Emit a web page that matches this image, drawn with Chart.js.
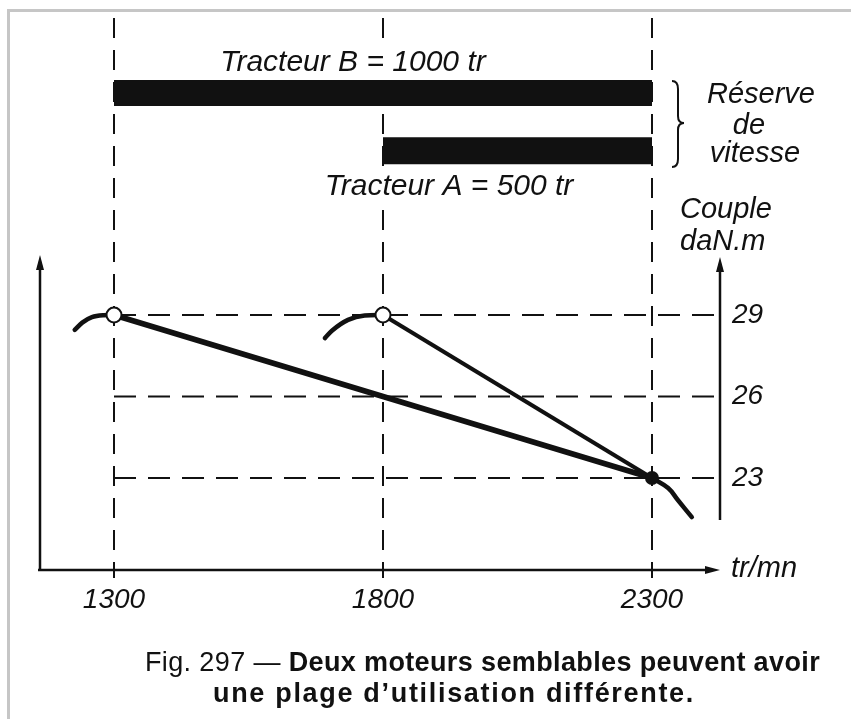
<!DOCTYPE html>
<html>
<head>
<meta charset="utf-8">
<script src="https://cdn.jsdelivr.net/npm/chart.js@4"></script>
<style>
  html, body { margin: 0; padding: 0; background: #fff; }
  #wrap { position: relative; width: 851px; height: 719px; overflow: hidden; }
  #cadre { position: absolute; left: 7px; top: 9px; width: 900px; height: 800px;
           border-left: 3px solid #c6c6c6; border-top: 3px solid #c6c6c6; }
  canvas { position: absolute; left: 0; top: 0; }
  .legende { position: absolute; font-family: "Liberation Sans", Arial, sans-serif; font-size: 27px;
             font-weight: bold; color: #111; white-space: nowrap; line-height: 1; }
  .legende span { font-weight: normal; }
</style>
</head>
<body>
<div id="wrap">
  <div id="cadre"></div>
  <canvas id="couple" width="851" height="719"></canvas>
  <div class="legende" id="leg1" data-w="675" style="left:145px; top:649px;"><span>Fig. 297 — </span>Deux moteurs semblables peuvent avoir</div>
  <div class="legende" id="leg2" data-w="482" style="left:213px; top:680px;">une plage d’utilisation différente.</div>
</div>
<script>
// graduations
const rpmTicks = [1300, 1800, 2300];
const coupleTicks = [23, 26, 29];

// moteur B : couple maxi a 1300 tr/mn
const arcB_x = [1227, 1241, 1259, 1280, 1300];
const arcB_y = [28.45, 28.72, 28.92, 28.99, 29];
const lineB_x = [1300, 1800, 2300];
const lineB_y = [29, 26, 23];

// moteur A : couple maxi a 1800 tr/mn
const arcA_x = [1692, 1705, 1735, 1766, 1800];
const arcA_y = [28.15, 28.42, 28.82, 28.98, 29];
const lineA_x = [1800, 2300];
const lineA_y = [29, 23];

// chute apres le regime nominal (commune)
const chute_x = [2300, 2330, 2348, 2374];
const chute_y = [23, 22.63, 22.19, 21.56];

// points remarquables
const maxi_x = [1300, 1800];
const maxi_y = [29, 29];
const nominal_x = [2300];
const nominal_y = [23];

// reserve de vitesse (tr/mn)
const reserveB = [1300, 2300];
const reserveA = [1800, 2300];

const pts = (xs, ys) => xs.map((x, i) => ({ x: x, y: ys[i] }));
const barre = (r, niveau) => r.map(x => ({ x: x, y: niveau }));

const NOIR = '#111';
const police = '"Liberation Sans", Arial, sans-serif';

// ajuste l'espacement des lettres de la legende a la largeur voulue
document.querySelectorAll('.legende').forEach(el => {
    const n = el.textContent.length;
    const w = el.getBoundingClientRect().width;
    el.style.letterSpacing = ((parseFloat(el.dataset.w) - w) / n) + 'px';
});

function fleche(ctx, x, y, dir) {
    ctx.beginPath();
    if (dir === 'up') {
        ctx.moveTo(x, y); ctx.lineTo(x - 4, y + 15); ctx.lineTo(x + 4, y + 15);
    } else {
        ctx.moveTo(x, y); ctx.lineTo(x - 15, y - 4); ctx.lineTo(x - 15, y + 4);
    }
    ctx.closePath();
    ctx.fill();
}

// texte sur fond blanc (coupe les pointilles)
function texteDegage(ctx, txt, x, y) {
    const w = ctx.measureText(txt).width;
    ctx.fillStyle = '#fff';
    ctx.fillRect(x - w / 2 - 4, y - 24, w + 8, 30);
    ctx.fillStyle = NOIR;
    ctx.fillText(txt, x, y);
}

const decor = {
    id: 'decor',
    beforeDatasetsDraw(chart) {
        const ctx = chart.ctx, xs = chart.scales.x, ys = chart.scales.y, a = chart.chartArea;
        ctx.save();
        ctx.strokeStyle = NOIR;
        ctx.fillStyle = NOIR;
        ctx.lineWidth = 2;
        // pointilles verticaux
        ctx.setLineDash([20, 12]);
        rpmTicks.forEach(v => {
            const px = xs.getPixelForValue(v);
            ctx.beginPath(); ctx.moveTo(px, 18); ctx.lineTo(px, a.bottom + 8); ctx.stroke();
        });
        // pointilles horizontaux
        ctx.setLineDash([22, 12]);
        coupleTicks.forEach(v => {
            const py = ys.getPixelForValue(v);
            ctx.beginPath(); ctx.moveTo(xs.getPixelForValue(rpmTicks[0]), py); ctx.lineTo(a.right, py); ctx.stroke();
        });
        ctx.setLineDash([]);
        // texte des tracteurs
        ctx.textAlign = 'center';
        ctx.textBaseline = 'alphabetic';
        ctx.font = 'italic 30px ' + police;
        texteDegage(ctx, 'Tracteur B = ' + (reserveB[1] - reserveB[0]) + ' tr', 353, 71);
        texteDegage(ctx, 'Tracteur A = ' + (reserveA[1] - reserveA[0]) + ' tr', 449, 195);
        // axes
        ctx.lineWidth = 2.5;
        ctx.beginPath(); ctx.moveTo(a.left, a.bottom); ctx.lineTo(a.left, 262); ctx.stroke();
        fleche(ctx, a.left, 255, 'up');
        ctx.beginPath(); ctx.moveTo(a.left - 2, a.bottom); ctx.lineTo(a.right - 8, a.bottom); ctx.stroke();
        fleche(ctx, a.right, a.bottom, 'right');
        ctx.beginPath(); ctx.moveTo(a.right, ys.getPixelForValue(21.45)); ctx.lineTo(a.right, 264); ctx.stroke();
        fleche(ctx, a.right, 257, 'up');
        ctx.restore();
    },
    afterDraw(chart) {
        const ctx = chart.ctx;
        ctx.save();
        ctx.fillStyle = NOIR;
        ctx.textBaseline = 'alphabetic';
        ctx.textAlign = 'center';
        ctx.font = 'italic 29px ' + police;
        ctx.fillText('Réserve', 761, 103);
        ctx.fillText('de', 749, 134);
        ctx.fillText('vitesse', 755, 162);
        ctx.textAlign = 'left';
        ctx.fillText('Couple', 680, 218);
        ctx.fillText('daN.m', 680, 250);
        ctx.fillText('tr/mn', 731, 577);
        // accolade
        ctx.strokeStyle = NOIR;
        ctx.lineWidth = 2;
        ctx.beginPath();
        ctx.moveTo(672, 81);
        ctx.quadraticCurveTo(678, 81, 678, 89);
        ctx.lineTo(678, 116);
        ctx.quadraticCurveTo(678, 123, 684, 123);
        ctx.quadraticCurveTo(678, 123, 678, 130);
        ctx.lineTo(678, 159);
        ctx.quadraticCurveTo(678, 167, 672, 167);
        ctx.stroke();
        ctx.restore();
    }
};

const trait = (data, w, extra) => Object.assign({
    data: data, showLine: true, borderColor: NOIR, borderWidth: w,
    pointRadius: 0, fill: false, tension: 0
}, extra || {});

const courbe = { cubicInterpolationMode: 'monotone', borderCapStyle: 'round' };

var ctx = document.getElementById('couple').getContext('2d');
var chart = new Chart(ctx, {
    type: 'scatter',
    data: {
        datasets: [
            { data: pts(maxi_x, maxi_y), showLine: false, pointRadius: 7.5,
              pointBackgroundColor: '#fff', pointBorderColor: NOIR, pointBorderWidth: 2 },
            { data: pts(nominal_x, nominal_y), showLine: false, pointRadius: 7,
              pointBackgroundColor: NOIR, pointBorderColor: NOIR, pointBorderWidth: 0 },
            trait(pts(lineA_x, lineA_y), 4),
            trait(pts(lineB_x, lineB_y), 5.5),
            trait(pts(arcB_x, arcB_y), 4.5, courbe),
            trait(pts(arcA_x, arcA_y), 4.5, courbe),
            trait(pts(chute_x, chute_y), 4.5, { tension: 0.4, borderCapStyle: 'round' }),
            trait(barre(reserveB, 37.17), 26, { borderCapStyle: 'butt' }),
            trait(barre(reserveA, 35.05), 27, { borderCapStyle: 'butt' })
        ]
    },
    options: {
        responsive: false,
        animation: false,
        layout: { padding: { left: 40, top: 10, right: 0, bottom: 0 } },
        plugins: {
            legend: { display: false },
            tooltip: { enabled: false }
        },
        scales: {
            x: {
                type: 'linear',
                min: 1162.45,
                max: 2426.39,
                grid: { display: false, drawTicks: false },
                border: { display: false },
                afterBuildTicks: s => { s.ticks = rpmTicks.map(v => ({ value: v })); },
                afterFit: s => { s.height = 149; s.paddingLeft = 0; s.paddingRight = 0; },
                ticks: {
                    autoSkip: false, maxRotation: 0, padding: 13, color: NOIR,
                    callback: v => String(v),
                    font: { family: police, size: 28, style: 'italic' }
                }
            },
            y: {
                type: 'linear',
                position: 'right',
                min: 19.6135,
                max: 40.227,
                grid: { display: false, drawTicks: false },
                border: { display: false },
                afterBuildTicks: s => { s.ticks = coupleTicks.map(v => ({ value: v })); },
                afterFit: s => { s.width = 131; s.paddingTop = 0; s.paddingBottom = 0; },
                ticks: {
                    padding: 12, color: NOIR,
                    callback: v => String(v),
                    font: { family: police, size: 28, style: 'italic' }
                }
            }
        }
    },
    plugins: [decor]
});
</script>
</body>
</html>
